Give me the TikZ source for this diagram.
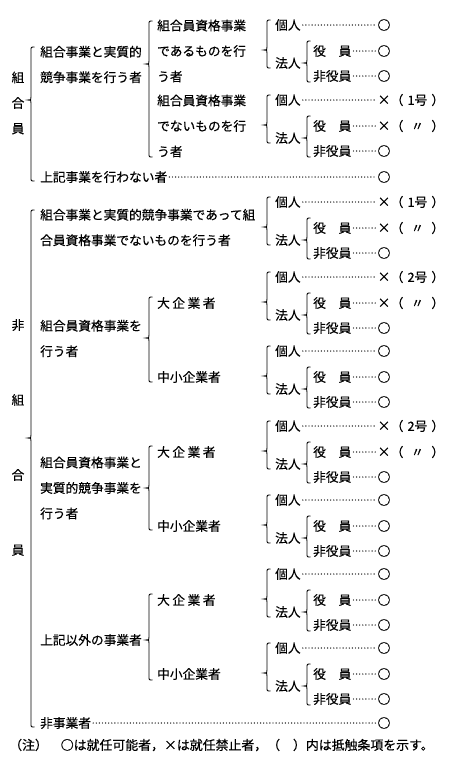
\documentclass[tikz,border=0pt]{standalone}
\usepackage{fontspec}
\setmainfont{Noto Sans CJK JP}[FakeBold=0.4]
\usetikzlibrary{positioning}

% left curly brace: x, top, tip, bottom
\newcommand{\curlybr}[4]{%
  \draw[brc] ({#1+3.5},{#2}) .. controls (#1,{#2}) .. (#1,{#2+3.5})
    -- (#1,{#3-3}) .. controls (#1,{#3}) .. ({#1-3},{#3})
    .. controls (#1,{#3}) .. (#1,{#3+3})
    -- (#1,{#4-3.5}) .. controls (#1,{#4}) .. ({#1+3.5},{#4});}

% individual / corporation group: [clause no.] name, top row
\newcommand{\leafgroup}[3][]{%
  \node[lbl] (#2-ind) at (275,{#3}) {個人};
  \node[lbl] (#2-corp) at (275,{#3+38}) {法人};
  \node[lbl] (#2-off) at (313,{#3+26}) {役\hspace{1em}員};
  \node[lbl] (#2-emp) at (313,{#3+51}) {非役員};
  \if\relax\detokenize{#1}\relax
    \node[resmk] (#2-ind-r) at (384,{#3}) {○};
    \node[resmk] (#2-off-r) at (384,{#3+26}) {○};
  \else
    \node[resmk] (#2-ind-r) at (384,{#3}) {×};
    \node[resmk] (#2-off-r) at (384,{#3+26}) {×};
    \node[clause, right=0pt of #2-ind-r] {（\makebox[28pt]{#1号}）};
    \node[clause, right=0pt of #2-off-r] {（\makebox[28pt]{〃}）};
  \fi
  \node[resmk] (#2-emp-r) at (384,{#3+51}) {○};
  \draw[ldr] (#2-ind) -- (#2-ind-r);
  \draw[ldr] (#2-off) -- (#2-off-r);
  \draw[ldr] (#2-emp) -- (#2-emp-r);
  \curlybr{267}{#3-5}{#3+25}{#3+43}
  \curlybr{307}{#3+16}{#3+38}{#3+57}
}

\begin{document}
\begin{tikzpicture}[x=1pt, y=-1pt,
    lbl/.style={anchor=west, inner sep=0pt, align=left,
                font=\fontsize{12.7pt}{25.5pt}\selectfont},
    vlbl/.style={inner sep=0pt, align=center},
    resmk/.style={inner sep=0pt, minimum width=12.7pt,
                  font=\fontsize{12.7pt}{15pt}\selectfont},
    clause/.style={anchor=west, inner sep=0pt,
                   font=\fontsize{12.7pt}{15pt}\selectfont},
    ldr/.style={line width=1.4pt, line cap=round,
                dash pattern=on 0pt off 3.1pt,
                shorten <=2pt, shorten >=1pt},
    brc/.style={line width=0.9pt},
]
\useasboundingbox (0,0) rectangle (450,761);

% --- Members ---
\node[vlbl, font=\fontsize{12.7pt}{25.5pt}\selectfont] (kumiai) at (18,103)
    {組\\合\\員};
\node[lbl] (compete) at (40,64.5) {組合事業と実質的\\競争事業を行う者};
\node[lbl] (nobiz) at (40,177) {上記事業を行わない者};
\node[resmk] (nobiz-r) at (384,177) {○};
\draw[ldr] (nobiz) -- (nobiz-r);

\node[lbl] (memyes) at (157,51) {組合員資格事業\\であるものを行\\う者};
\node[lbl] (memno) at (157,126) {組合員資格事業\\でないものを行\\う者};

\leafgroup{g1}{25}
\leafgroup[1]{g2}{100}

\curlybr{31}{47}{100}{181}
\curlybr{149}{21}{64}{157}

% --- Non-members ---
\node[vlbl, font=\fontsize{12.7pt}{75pt}\selectfont] (hikumiai) at (18,437.5)
    {非\\組\\合\\員};
\node[lbl] (compnon) at (40,227.5)
    {組合事業と実質的競争事業であって組\\合員資格事業でないものを行う者};
\node[lbl] (membiz) at (40,338.5) {組合員資格事業を\\行う者};
\node[lbl] (memcomp) at (40,488) {組合員資格事業と\\実質的競争事業を\\行う者};
\node[lbl] (others) at (40,640) {上記以外の事業者};
\node[lbl] (nonbiz) at (40,723) {非事業者};
\node[resmk] (nonbiz-r) at (384,723) {○};
\draw[ldr] (nonbiz) -- (nonbiz-r);

\node[lbl] (large1) at (157,303) {大\hspace{2.5pt}企\hspace{2.5pt}業\hspace{2.5pt}者};
\node[lbl] (small1) at (157,377) {中小企業者};
\node[lbl] (large2) at (157,452) {大\hspace{2.5pt}企\hspace{2.5pt}業\hspace{2.5pt}者};
\node[lbl] (small2) at (157,526) {中小企業者};
\node[lbl] (large3) at (157,600) {大\hspace{2.5pt}企\hspace{2.5pt}業\hspace{2.5pt}者};
\node[lbl] (small3) at (157,674) {中小企業者};

\leafgroup[1]{g3}{202}
\leafgroup[2]{g4}{277}
\leafgroup{g5}{351}
\leafgroup[2]{g6}{426}
\leafgroup{g7}{500}
\leafgroup{g8}{574}
\leafgroup{g9}{648}

\curlybr{31}{210}{438}{727}
\curlybr{149}{297}{338}{382}
\curlybr{149}{446}{488}{530}
\curlybr{149}{594}{640}{680}

% --- Note ---
\node[clause, font=\fontsize{12.9pt}{15pt}\selectfont] (note) at (9,745)
    {（注）\quad○は就任可能者，×は就任禁止者，（\hspace{1em}）内は抵触条項を示す。};
\end{tikzpicture}
\end{document}
